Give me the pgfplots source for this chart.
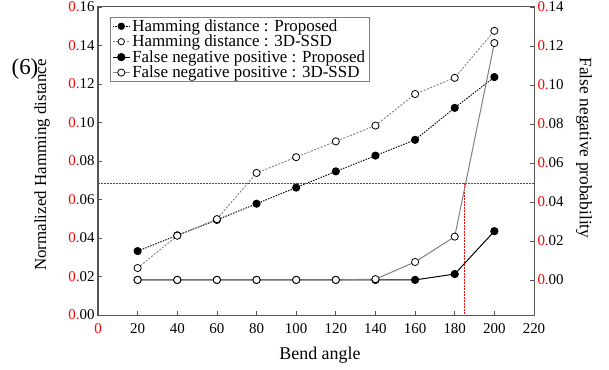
\documentclass[border=0pt]{standalone}
\usepackage{pgfplots}
\pgfplotsset{compat=1.18}
\usepackage{fontspec}
\setmainfont{Liberation Serif}
\definecolor{axgray}{HTML}{555555}
\definecolor{sgray}{HTML}{808080}
\newcommand{\rz}[1]{\textcolor{red}{0.}#1}
\begin{document}
\begin{tikzpicture}
\path[use as bounding box] (-98bp,-55bp) rectangle (511bp,315bp);
\pgfplotsset{
  common/.style={
    scale only axis, width=436bp, height=308bp,
    xmin=0, xmax=220,
    tick align=inside,
    major tick length=4bp,
    axis line style={axgray, line width=1bp},
    every tick/.style={axgray, line width=0.8bp},
    tick label style={font=\fontsize{15}{18}\selectfont},
  }
}
% left axis: Hamming distance
\begin{axis}[common,
  ymin=0, ymax=0.16,
  xtick=\empty,
  ytick={0,0.02,0.04,0.06,0.08,0.10,0.12,0.14,0.16},
  yticklabels={\rz{00},\rz{02},\rz{04},\rz{06},\rz{08},\rz{10},\rz{12},\rz{14},\rz{16}},
  ytick pos=left,
]
\addplot[black, line width=0.9bp, dash pattern=on 1.5bp off 1.2bp,
  mark=*, mark size=3.6bp, mark options={solid, fill=black, draw=black}]
  coordinates {(20,0.0332)(40,0.0414)(60,0.0494)(80,0.0578)(100,0.0662)(120,0.0746)(140,0.0828)(160,0.0910)(180,0.1076)(200,0.1236)};
\addplot[sgray, line width=0.9bp, dash pattern=on 2bp off 1.5bp,
  mark=*, mark size=3.6bp, mark options={solid, fill=white, draw=black, line width=0.8bp}]
  coordinates {(20,0.0244)(40,0.0412)(60,0.0498)(80,0.0738)(100,0.0820)(120,0.0902)(140,0.0984)(160,0.1148)(180,0.1232)(200,0.1476)};
\end{axis}
% right axis: False negative probability
\begin{axis}[common,
  ymin=-0.018, ymax=0.14,
  xtick={0,20,40,60,80,100,120,140,160,180,200,220},
  xticklabels={\textcolor{red}{0},20,40,60,80,100,120,140,160,180,200,220},
  xtick pos=bottom,
  xticklabel style={yshift=-5bp},
  ytick={0,0.02,0.04,0.06,0.08,0.10,0.12,0.14},
  yticklabels={\rz{00},\rz{02},\rz{04},\rz{06},\rz{08},\rz{10},\rz{12},\rz{14}},
  ytick pos=right,
  yticklabel pos=right,
  legend cell align=left,
  legend style={at={(rel axis cs:0.0275,0.968)}, anchor=north west,
    draw=gray, line width=0.6bp, fill=white,
    font=\fontsize{17}{17}\selectfont,
    inner xsep=2bp, inner ysep=0.5bp, row sep=-1.8bp},
]
\addplot[red, line width=0.5bp, densely dotted, forget plot] coordinates {(0,0.0497)(220,0.0497)};
\addplot[red, line width=0.5bp, densely dotted, forget plot] coordinates {(185,-0.018)(185,0.0497)};
\addlegendimage{black, line width=0.9bp, dash pattern=on 1.5bp off 1.2bp, mark=*, mark size=3.2bp, mark options={solid, fill=black, draw=black}}
\addlegendentry{Hamming distance : Proposed}
\addlegendimage{sgray, line width=0.9bp, dash pattern=on 2bp off 1.5bp, mark=*, mark size=3.2bp, mark options={solid, fill=white, draw=black, line width=0.8bp}}
\addlegendentry{Hamming distance : 3D-SSD}
\addplot[black, line width=1bp,
  mark=*, mark size=3.6bp, mark options={solid, fill=black, draw=black}]
  coordinates {(20,0)(40,0)(60,0)(80,0)(100,0)(120,0)(140,0)(160,0)(180,0.0030)(200,0.0250)};
\addlegendentry{False negative positive : Proposed}
\addplot[sgray, line width=1bp,
  mark=*, mark size=3.6bp, mark options={solid, fill=white, draw=black, line width=0.8bp}]
  coordinates {(20,0)(40,0)(60,0)(80,0)(100,0)(120,0)(140,0.0004)(160,0.0092)(180,0.0222)(200,0.1215)};
\addlegendentry{False negative positive : 3D-SSD}
\end{axis}
\node[font=\fontsize{18}{20}\selectfont] at (222bp,-40bp) {Bend angle};
\node[font=\fontsize{17}{20}\selectfont, rotate=90] at (-56bp,150bp) {Normalized Hamming distance};
\node[font=\fontsize{17.5}{20}\selectfont, rotate=-90] at (486bp,167bp) {False negative probability};
\node[font=\fontsize{23}{26}\selectfont] at (-73bp,246bp) {(6)};
\end{tikzpicture}
\end{document}
